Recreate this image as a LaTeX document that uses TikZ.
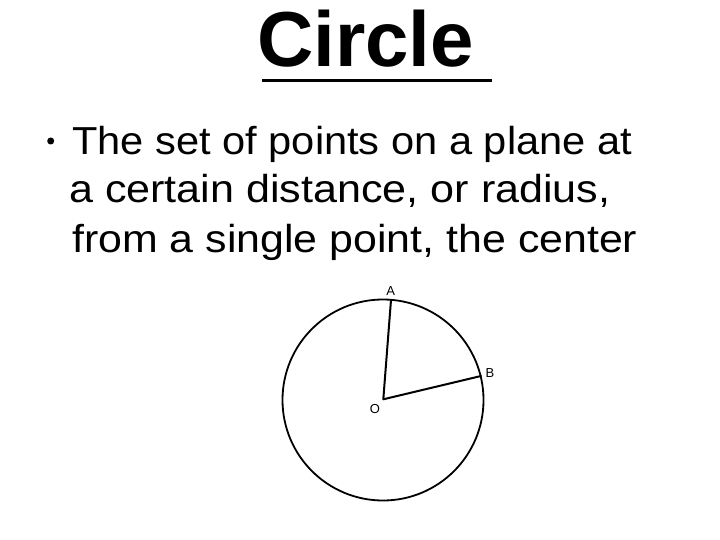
\documentclass[tikz,border=0pt]{standalone}
\usepackage{fontspec}
\setmainfont{Liberation Sans}
\newcommand{\widen}[2]{\scalebox{#1}[1]{#2}}
\begin{document}
\begin{tikzpicture}[x=1pt,y=-1pt,
  bodytext/.style={anchor=base west,inner sep=0pt,font=\fontsize{39}{46}\selectfont},
  ptlabel/.style={inner sep=0pt,font=\fontsize{13}{13}\selectfont},
  radiusline/.style={line width=2pt,line cap=round,line join=round}]
\useasboundingbox[fill=white] (0,0) rectangle (720,540);
% title
\node[anchor=base west,inner sep=0pt,font=\fontsize{78}{80}\selectfont\bfseries] (title) at (257,67) {Circle};
\draw[line width=3pt] (262,81) -- (492,81);
% bullet and text
\fill (50.7,141) circle (3.5);
\node[bodytext] (l1) at (72,155) {\widen{1.067}{The set of points on a plane at}};
\node[bodytext] (l2) at (69,203) {\widen{1.105}{a certain distance, or radius,}};
\node[bodytext] (l3) at (72,252) {\widen{1.10}{from a single point, the center}};
% circle
\coordinate (C) at (383,400);
\coordinate (O) at (383.3,399.3);
\coordinate (A) at (391,300);
\coordinate (B) at (481,376);
\draw[line width=1.8pt] (C) circle (100.5);
\draw[radiusline] (A) -- (O) -- (B);
\node[ptlabel] (la) at (390.7,291) {A};
\node[ptlabel] (lb) at (490,373) {B};
\node[ptlabel] (lo) at (375,409) {O};
\end{tikzpicture}
\end{document}
